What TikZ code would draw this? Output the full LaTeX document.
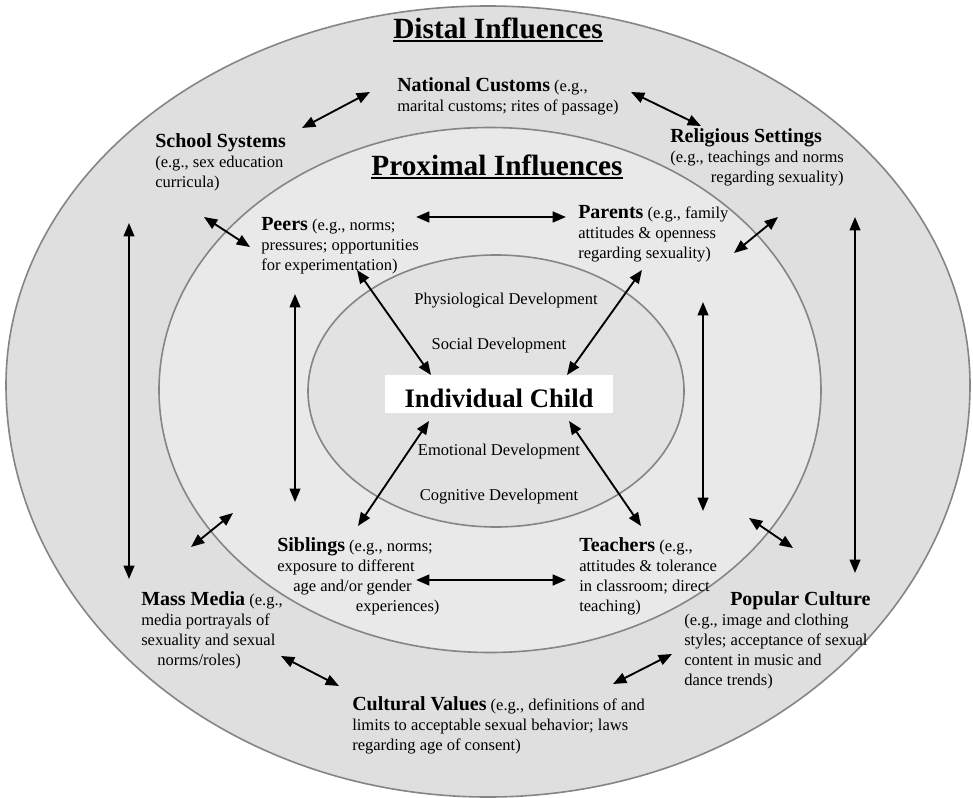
\documentclass[tikz,border=0pt]{standalone}
\usepackage{fontspec}
\setmainfont{Liberation Serif}
\usetikzlibrary{arrows.meta, positioning}
\definecolor{outerfill}{HTML}{DFDFDF}
\definecolor{middlefill}{HTML}{E9E9E9}
\definecolor{innerfill}{HTML}{E2E2E2}
\definecolor{ringgray}{HTML}{858585}
\newcommand{\hd}[1]{{\fontsize{15}{15}\selectfont\bfseries #1}}
\newcommand{\thickul}[1]{\setbox0\hbox{#1}\rlap{\rule[-2.6pt]{\wd0}{1.7pt}}\box0}

\begin{document}
\begin{tikzpicture}[x=0.75pt, y=-0.75pt,
        ring/.style={draw=ringgray, line width=1.2pt},
        infl/.style={align=left, inner sep=0pt, anchor=north west, font=\fontsize{12.4}{15}\selectfont},
        devel/.style={inner sep=0pt, font=\fontsize{12.4}{15}\selectfont},
        title/.style={anchor=base, inner sep=0pt, font=\fontsize{22}{26}\selectfont\bfseries},
        arrow/.style={<->, >={Triangle[length=10pt,width=8pt]}, line width=1.4pt},
        thick arrow/.style={arrow, line width=1.9pt}
    ]
        \useasboundingbox (0,0) rectangle (973,798);
        \fill[white] (0,0) rectangle (973,798);
        \draw[ring, fill=outerfill] (6,385) arc[start angle=180, end angle=360, x radius=482, y radius=379]
            arc[start angle=0, end angle=180, x radius=482, y radius=412] -- cycle;
        \draw[ring, fill=middlefill] (490,390) ellipse [x radius=331, y radius=262.5];
        \draw[ring, fill=innerfill] (496,391) ellipse [x radius=188, y radius=136];

        \node[title] (distal) at (498,39) {\thickul{Distal Influences}};
        \node[title] (proximal) at (497,176) {\thickul{Proximal Influences}};

        \node[infl] (natcust) at (397,77) {\hd{National Customs} (e.g.,\\marital customs; rites of passage)};
        \node[infl] (school) at (155,133) {\hd{School Systems}\\(e.g., sex education\\curricula)};
        \node[infl] (relig) at (670,128) {\hd{Religious Settings}\\(e.g., teachings and norms\\\hspace*{30.5pt}regarding sexuality)};
        \node[infl] (peers) at (261,217) {\hd{Peers} (e.g., norms;\\pressures; opportunities\\for experimentation)};
        \node[infl] (parents) at (578,205) {\hd{Parents} (e.g., family\\attitudes \& openness\\regarding sexuality)};
        \node[infl] (siblings) at (277,537) {\hd{Siblings} (e.g., norms;\\exposure to different\\\hspace*{12pt}age and/or gender\\\hspace*{59pt}experiences)};
        \node[infl] (teachers) at (579,537) {\hd{Teachers} (e.g.,\\attitudes \& tolerance\\in classroom; direct\\teaching)};
        \node[infl] (media) at (141,591) {\hd{Mass Media} (e.g.,\\media portrayals of\\sexuality and sexual\\\hspace*{12pt}norms/roles)};
        \node[infl] (popcult) at (684,591) {\hspace*{34.5pt}\hd{Popular Culture}\\(e.g., image and clothing\\styles; acceptance of sexual\\content in music and\\dance trends)};
        \node[infl] (cultval) at (352,696) {\hd{Cultural Values} (e.g., definitions of and\\limits to acceptable sexual behavior; laws\\regarding age of consent)};

        \node[devel] (physdev) at (506,301) {Physiological Development};
        \node[devel] (socdev) at (499,346) {Social Development};
        \node[devel] (emodev) at (499,452) {Emotional Development};
        \node[devel] (cogdev) at (499,497) {Cognitive Development};

        \node[fill=white, inner sep=0pt, minimum width=171pt, minimum height=28.5pt, text height=20pt, text depth=0.5pt,
            font=\fontsize{20}{24}\selectfont\bfseries] (child) at (499,394) {Individual Child};

        \coordinate (sch-nc) at (302,128);  \coordinate (nc-sch) at (370,92);
        \coordinate (nc-rel) at (631,92);   \coordinate (rel-nc) at (701,126);
        \coordinate (sch-pe) at (204,217);  \coordinate (pe-sch) at (250,247);
        \coordinate (pe-pa) at (416,217);   \coordinate (pa-pe) at (566,217);
        \coordinate (pa-rel) at (734,253);  \coordinate (rel-pa) at (778,217);
        \coordinate (lo-top) at (129,223);  \coordinate (lo-bot) at (129,579);
        \coordinate (li-top) at (295,294);  \coordinate (li-bot) at (295,502);
        \coordinate (ri-top) at (703,302);  \coordinate (ri-bot) at (703,511);
        \coordinate (ro-top) at (855,217);  \coordinate (ro-bot) at (855,573);
        \coordinate (pe-ch) at (357,270);   \coordinate (ch-pe) at (431,375);
        \coordinate (pa-ch) at (642,270);   \coordinate (ch-pa) at (567,375);
        \coordinate (ch-sib) at (429,421);  \coordinate (sib-ch) at (358,526);
        \coordinate (ch-te) at (569,421);   \coordinate (te-ch) at (641,526);
        \coordinate (sib-te) at (416,580);  \coordinate (te-sib) at (566,580);
        \coordinate (mm-in) at (191,547);   \coordinate (in-mm) at (233,513);
        \coordinate (in-pc) at (749,518);   \coordinate (pc-in) at (793,548);
        \coordinate (mm-cv) at (281,656);   \coordinate (cv-mm) at (339,686);
        \coordinate (cv-pc) at (613,684);   \coordinate (pc-cv) at (672,654);

        \draw[arrow] (sch-nc) -- (nc-sch);
        \draw[arrow] (nc-rel) -- (rel-nc);
        \draw[arrow] (sch-pe) -- (pe-sch);
        \draw[thick arrow] (pe-pa) -- (pa-pe);
        \draw[arrow] (pa-rel) -- (rel-pa);
        \draw[arrow] (lo-top) -- (lo-bot);
        \draw[arrow] (li-top) -- (li-bot);
        \draw[arrow] (ri-top) -- (ri-bot);
        \draw[arrow] (ro-top) -- (ro-bot);
        \draw[arrow] (pe-ch) -- (ch-pe);
        \draw[arrow] (pa-ch) -- (ch-pa);
        \draw[arrow] (ch-sib) -- (sib-ch);
        \draw[arrow] (ch-te) -- (te-ch);
        \draw[thick arrow] (sib-te) -- (te-sib);
        \draw[arrow] (mm-in) -- (in-mm);
        \draw[arrow] (in-pc) -- (pc-in);
        \draw[arrow] (mm-cv) -- (cv-mm);
        \draw[arrow] (cv-pc) -- (pc-cv);
    \end{tikzpicture}
\end{document}
